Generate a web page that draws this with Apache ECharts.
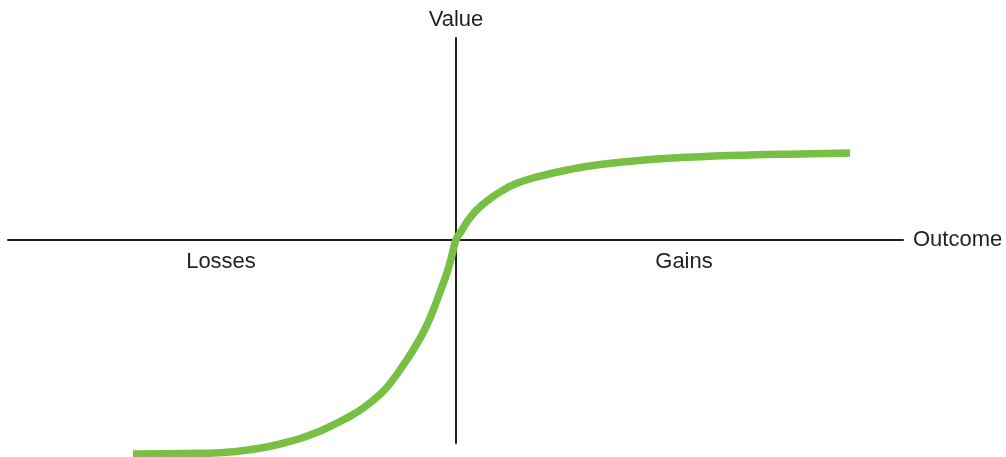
<!DOCTYPE html>
<html>
<head>
<meta charset="utf-8">
<script src="https://cdn.jsdelivr.net/npm/echarts@6/dist/echarts.min.js"></script>
<style>
  html, body { margin: 0; padding: 0; background: #fff; }
  #valueChart { width: 1006px; height: 457px; }
</style>
</head>
<body>
<div id="valueChart"></div>
<script>
// value function (outcome vs value, arbitrary units)
var outcomes = [-323, -256, -223, -189.3, -159.3, -142.7, -126, -109.3, -92.7, -76, -66, -52.7, -41, -31, -22.7, -16, -9.3, -4,
  0, 6.3, 12.3, 20.7, 32.3, 45.7, 59, 77, 111, 144, 194, 244, 294, 344, 394]
var values = [-214, -213.3, -211.7, -207, -199.5, -193.8, -186.5, -178, -168, -154.5, -143.5, -125, -107, -89, -70, -52, -33.5, -15,
  0, 10.5, 20, 30, 40, 49, 56, 62, 70, 75.5, 80.5, 83.3, 85, 86, 87]

var regionNames = ['Losses', 'Gains']
var regionX = [-235, 228]
var regionY = [-22, -22]

var axisColor = '#231f20'
var textColor = '#231f20'
var curveColor = '#77c043'
var fontFamily = 'Liberation Sans, Arial, sans-serif'

function buildOption() {
  var curve = outcomes.map(function (x, i) { return [x, values[i]] })
  var regions = regionNames.map(function (name, i) {
    return { name: name, value: [regionX[i], regionY[i]] }
  })

  return {
    animation: false,
    grid: { left: 8, right: 103, top: 38, bottom: 14, containLabel: false },
    xAxis: {
      type: 'value',
      min: -448,
      max: 447,
      name: 'Outcome',
      nameLocation: 'end',
      nameGap: 10,
      nameTextStyle: { color: textColor, fontSize: 22, fontFamily: fontFamily, verticalAlign: 'middle' },
      axisLine: { show: true, onZero: true, lineStyle: { color: axisColor, width: 2 } },
      axisTick: { show: false },
      axisLabel: { show: false },
      splitLine: { show: false }
    },
    yAxis: {
      type: 'value',
      min: -203,
      max: 202,
      name: 'Value',
      nameLocation: 'end',
      nameGap: 7,
      nameTextStyle: { color: textColor, fontSize: 22, fontFamily: fontFamily, align: 'center' },
      axisLine: { show: true, onZero: true, lineStyle: { color: axisColor, width: 2 } },
      axisTick: { show: false },
      axisLabel: { show: false },
      splitLine: { show: false }
    },
    series: [
      {
        name: 'value function',
        type: 'line',
        data: curve,
        smooth: 0.5,
        clip: false,
        showSymbol: false,
        lineStyle: { color: curveColor, width: 7.5, cap: 'butt' },
        z: 3
      },
      {
        name: 'regions',
        type: 'scatter',
        data: regions,
        symbolSize: 0,
        itemStyle: { opacity: 1 },
        label: {
          show: true,
          position: 'inside',
          formatter: '{b}',
          color: textColor,
          fontSize: 22,
          fontFamily: fontFamily
        }
      }
    ]
  }
}

var myChart = echarts.init(document.getElementById('valueChart'))
myChart.setOption(buildOption())
</script>
</body>
</html>
